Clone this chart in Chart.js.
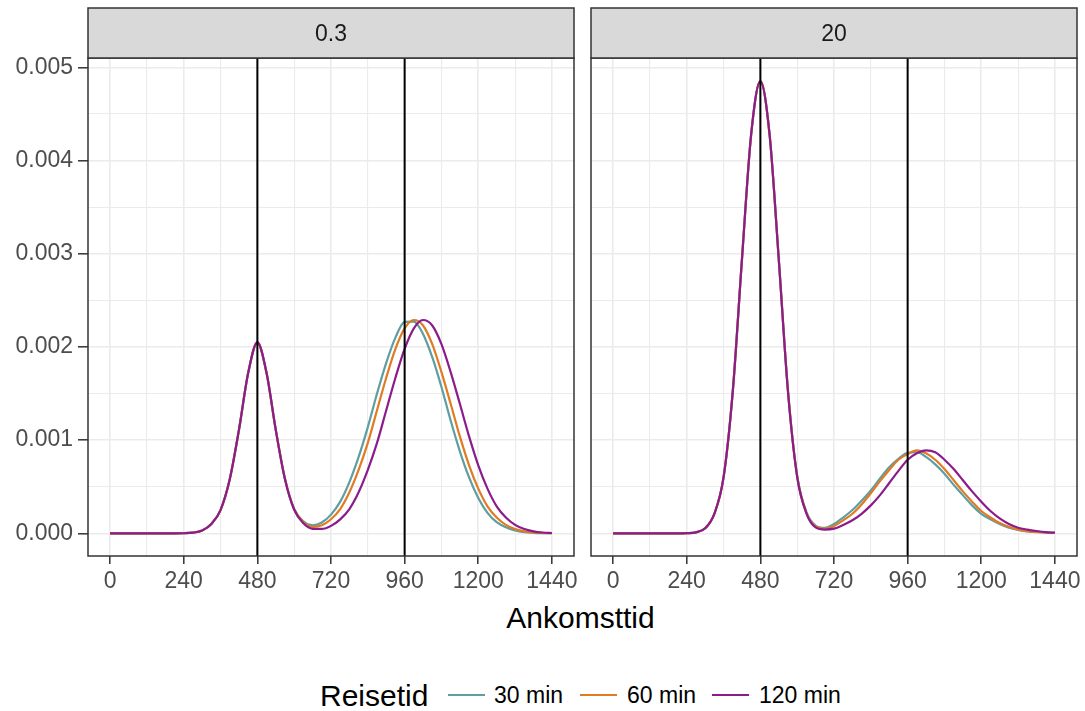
<!DOCTYPE html>
<html>
<head>
<meta charset="utf-8">
<script src="https://cdn.jsdelivr.net/npm/chart.js@4.4.1/dist/chart.umd.min.js"></script>
<style>
  html, body { margin: 0; padding: 0; background: #ffffff; }
  body { width: 1085px; height: 711px; position: relative; overflow: hidden; font-family: "Liberation Sans", Arial, sans-serif; }
  canvas { position: absolute; top: 0; }
  .txt { position: absolute; white-space: nowrap; }
  .key { position: absolute; height: 2px; }
</style>
</head>
<body>
<canvas id="c0" width="582" height="600" style="left:0px"></canvas>
<canvas id="c1" width="502" height="600" style="left:583px"></canvas>
<div class="txt" id="xtitle" style="font-size:30px;line-height:30px;color:#000;top:603px;left:0;width:1161px;text-align:center;">Ankomsttid</div>
<div id="legend"></div>
<script>
// ---------------- data ----------------
const minutes = [0,30,60,90,120,150,180,210,240,270,300,330,360,390,420,450,480,510,540,570,600,630,660,690,720,750,780,810,840,870,900,930,960,990,1020,1050,1080,1110,1140,1170,1200,1230,1260,1290,1320,1350,1380,1410,1440];

const panelLabels = ['0.3', '20'];
const seriesLabels = ['30 min', '60 min', '120 min'];
const seriesColors = ['#5F9EA0', '#E07B24', '#8B1C8B'];

// panel "0.3"
const p03_30 = [0,0,0,0,0,0,0,0,0.000001,0.000007,0.00003,0.0001,0.00025,0.00058,0.00111,0.00172,0.00205,0.00172,0.00111,0.000585,0.000262,0.000128,0.000087,0.000117,0.000201,0.00034,0.00055,0.00082,0.00114,0.0015,0.00183,0.0021,0.002268,0.002272,0.00214,0.00189,0.00157,0.00121,0.00088,0.0006,0.00038,0.00022,0.00012,0.000065,0.000032,0.000014,0.000006,0.0000025,0.000001];
const p03_60 = [0,0,0,0,0,0,0,0,0.000001,0.000007,0.00003,0.0001,0.00025,0.00058,0.00111,0.00172,0.00205,0.00172,0.00111,0.000583,0.000258,0.000119,0.00007,0.000086,0.000151,0.00026,0.00044,0.00068,0.00097,0.00132,0.00167,0.00198,0.0022,0.002289,0.00223,0.00203,0.00173,0.00139,0.00104,0.00073,0.00048,0.00029,0.00017,0.000091,0.000046,0.000022,0.000009,0.000004,0.0000015];
const p03_120 = [0,0,0,0,0,0,0,0,0.000001,0.000007,0.00003,0.0001,0.00025,0.00058,0.00111,0.00172,0.00205,0.00172,0.00111,0.00058,0.000253,0.000108,0.000049,0.000047,0.00008,0.00015,0.00026,0.00044,0.00068,0.00097,0.00132,0.00167,0.00198,0.0022,0.002289,0.00223,0.00203,0.00173,0.00139,0.00104,0.00073,0.00048,0.00029,0.00017,0.000091,0.000046,0.000022,0.000009,0.000004];

// panel "20"
const p20_30 = [0,0,0,0,0,0,0,0,0.000002,0.000011,0.000054,0.00021,0.0006,0.00152,0.00294,0.00428,0.00485,0.00428,0.00294,0.00153,0.00062,0.00023,0.000084,0.00006,0.0001,0.00017,0.00025,0.00035,0.00046,0.00059,0.00071,0.0008,0.000865,0.00087,0.00082,0.00074,0.00064,0.00052,0.00041,0.0003,0.00021,0.00015,0.0001,0.00006,0.000036,0.00002,0.000014,0.000008,0.000005];
const p20_60 = [0,0,0,0,0,0,0,0,0.000002,0.000011,0.000054,0.00021,0.0006,0.00152,0.00294,0.00428,0.00485,0.00428,0.00294,0.00153,0.00061,0.00022,0.000074,0.000051,0.00008,0.00014,0.00021,0.00031,0.00043,0.00056,0.00068,0.00079,0.00085,0.00089,0.00086,0.00079,0.00069,0.00057,0.00045,0.00034,0.00024,0.00017,0.00011,0.00007,0.00004,0.000024,0.000015,0.000009,0.000005];
const p20_120 = [0,0,0,0,0,0,0,0,0.000002,0.000011,0.000054,0.00021,0.0006,0.00152,0.00294,0.00428,0.00485,0.00428,0.00294,0.00152,0.000605,0.000215,0.000064,0.000041,0.00005,0.00009,0.00014,0.00021,0.0003,0.00041,0.00054,0.00067,0.00079,0.00086,0.00089,0.00087,0.00079,0.00069,0.00057,0.00045,0.00034,0.00024,0.00016,0.0001,0.00006,0.00004,0.000025,0.000013,0.000007];

const xTicks = [0, 240, 480, 720, 960, 1200, 1440];
const xMinor = [120, 360, 600, 840, 1080, 1320];
const yTicks = [0, 0.001, 0.002, 0.003, 0.004, 0.005];
const yMinor = [0.0005, 0.0015, 0.0025, 0.0035, 0.0045];
const vlines = [480, 960];
const xRange = [-72, 1512];
const yRange = [-0.000243, 0.0051];

// ---------------- drawing ----------------
const FONT = '"Liberation Sans", Arial, sans-serif';
const isMajorX = v => xTicks.some(t => Math.abs(t - v) < 1e-6);
const isMajorY = v => yTicks.some(t => Math.abs(t - v) < 1e-9);

const facetPlugin = {
  id: 'facet',
  afterDatasetsDraw(chart, args, opts) {
    const ctx = chart.ctx, a = chart.chartArea, x = chart.scales.x;
    ctx.save();
    ctx.beginPath();
    ctx.rect(a.left, a.top, a.right - a.left, a.bottom - a.top);
    ctx.clip();
    ctx.strokeStyle = '#000000';
    ctx.lineWidth = 2;
    vlines.forEach(v => {
      const px = x.getPixelForValue(v);
      ctx.beginPath();
      ctx.moveTo(px, a.top);
      ctx.lineTo(px, a.bottom);
      ctx.stroke();
    });
    ctx.restore();

    ctx.save();
    ctx.strokeStyle = '#333333';
    ctx.lineWidth = 1.5;
    ctx.strokeRect(a.left, a.top, a.right - a.left, a.bottom - a.top);
    const stripTop = 8;
    ctx.fillStyle = '#D9D9D9';
    ctx.fillRect(a.left, stripTop, a.right - a.left, a.top - stripTop);
    ctx.strokeRect(a.left, stripTop, a.right - a.left, a.top - stripTop);
    ctx.fillStyle = '#1A1A1A';
    ctx.font = '23px ' + FONT;
    ctx.textAlign = 'center';
    ctx.textBaseline = 'middle';
    ctx.fillText(opts.label, (a.left + a.right) / 2, (stripTop + a.top) / 2 + 2);
    ctx.restore();
  }
};

function makeChart(id, panelIdx, seriesData, showY, padLeft, padRight) {
  const datasets = seriesData.map((arr, i) => ({
    label: seriesLabels[i],
    data: minutes.map((m, k) => ({ x: m, y: arr[k] })),
    borderColor: seriesColors[i],
    backgroundColor: seriesColors[i],
    borderWidth: 2.2,
    pointRadius: 0,
    fill: false,
    order: seriesData.length - i,
    cubicInterpolationMode: 'monotone'
  }));
  return new Chart(document.getElementById(id), {
    type: 'line',
    data: { datasets },
    plugins: [facetPlugin],
    options: {
      responsive: false,
      animation: false,
      devicePixelRatio: 1,
      layout: { padding: { left: padLeft, right: padRight, top: 58, bottom: 0 } },
      plugins: {
        legend: { display: false },
        tooltip: { enabled: false },
        facet: { label: panelLabels[panelIdx] }
      },
      scales: {
        x: {
          type: 'linear',
          min: xRange[0],
          max: xRange[1],
          afterBuildTicks: s => { s.ticks = xTicks.concat(xMinor).sort((p, q) => p - q).map(v => ({ value: v })); },
          afterFit: s => { s.height = 44; },
          border: { display: false },
          grid: {
            color: '#EBEBEB',
            lineWidth: c => (c.tick && isMajorX(c.tick.value)) ? 1.6 : 1.1,
            tickLength: 8,
            tickWidth: 1.5,
            tickColor: c => (c.tick && isMajorX(c.tick.value)) ? '#333333' : 'rgba(0,0,0,0)'
          },
          ticks: {
            autoSkip: false,
            maxRotation: 0,
            padding: 4,
            color: '#4D4D4D',
            font: { family: FONT, size: 23 },
            callback: v => isMajorX(v) ? String(Math.round(v)) : ''
          }
        },
        y: {
          type: 'linear',
          min: yRange[0],
          max: yRange[1],
          afterBuildTicks: s => { s.ticks = yTicks.concat(yMinor).sort((p, q) => p - q).map(v => ({ value: v })); },
          afterFit: s => { s.width = showY ? 88 : 0; },
          border: { display: false },
          grid: {
            color: '#EBEBEB',
            lineWidth: c => (c.tick && isMajorY(c.tick.value)) ? 1.6 : 1.1,
            drawTicks: showY,
            tickLength: 10,
            tickWidth: 1.5,
            tickColor: c => (c.tick && isMajorY(c.tick.value)) ? '#333333' : 'rgba(0,0,0,0)'
          },
          ticks: {
            autoSkip: false,
            padding: 5,
            color: '#4D4D4D',
            font: { family: FONT, size: 23 },
            callback: v => (showY && isMajorY(v)) ? v.toFixed(3) : ''
          }
        }
      }
    }
  });
}

makeChart('c0', 0, [p03_30, p03_60, p03_120], true, 0, 8);
makeChart('c1', 1, [p20_30, p20_60, p20_120], false, 8, 8);

// ---------------- legend (HTML) ----------------
const legend = document.getElementById('legend');
function addText(txt, left, top, size) {
  const d = document.createElement('div');
  d.className = 'txt';
  d.textContent = txt;
  d.style.left = left + 'px';
  d.style.top = top + 'px';
  d.style.fontSize = size + 'px';
  d.style.lineHeight = size + 'px';
  d.style.color = '#000';
  legend.appendChild(d);
}
addText('Reisetid', 320, 681, 30);
const keyLefts = [448, 580, 712];
const labelLefts = [494, 627, 759];
seriesLabels.forEach((lab, i) => {
  const k = document.createElement('div');
  k.className = 'key';
  k.style.left = keyLefts[i] + 'px';
  k.style.top = '694px';
  k.style.width = '37px';
  k.style.background = seriesColors[i];
  legend.appendChild(k);
  addText(lab, labelLefts[i], 684, 23);
});
</script>
</body>
</html>
